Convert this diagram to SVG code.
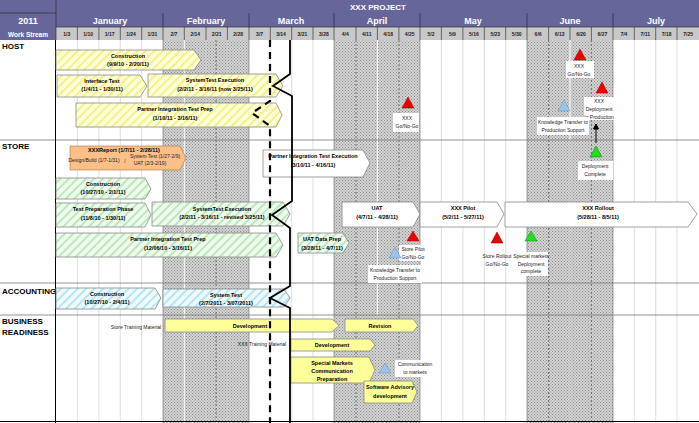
<svg xmlns="http://www.w3.org/2000/svg" width="699" height="423" viewBox="0 0 699 423">
<defs>
<pattern id="dots" width="3" height="3" patternUnits="userSpaceOnUse"><rect width="3" height="3" fill="#d4d4d4"/><rect width="1" height="1" fill="#8a8a8a"/><rect x="1.5" y="1.5" width="1" height="1" fill="#8a8a8a"/></pattern>
<pattern id="hy" width="6" height="6" patternUnits="userSpaceOnUse" patternTransform="rotate(45)"><rect width="6" height="6" fill="#ffffd8"/><rect width="2" height="6" fill="#f4f08a"/></pattern>
<pattern id="hg" width="6" height="6" patternUnits="userSpaceOnUse" patternTransform="rotate(45)"><rect width="6" height="6" fill="#f0fbef"/><rect width="2" height="6" fill="#bde8bb"/></pattern>
<pattern id="hc" width="6" height="6" patternUnits="userSpaceOnUse" patternTransform="rotate(45)"><rect width="6" height="6" fill="#effbff"/><rect width="2" height="6" fill="#b5e6f2"/></pattern>
</defs>
<style>
text{font-family:"Liberation Sans",Arial,sans-serif}
.b{font-size:5.5px;font-weight:bold;text-anchor:middle;fill:#000}
.s{font-size:5px;text-anchor:middle;fill:#222}
.w{font-size:5px;font-weight:bold;text-anchor:middle;fill:#222}
.m{font-size:9px;font-weight:bold;text-anchor:middle;fill:#fff}
.sec{font-size:8px;font-weight:bold;fill:#000}
.bar{stroke:#888;stroke-width:0.8}
.grid{stroke:#d0d0d0;stroke-width:0.7}
.lbl{fill:#fff}
</style>
<rect width="699" height="423" fill="#fff"/>
<g id="shade">
<rect x="163" y="40" width="86" height="383" fill="url(#dots)"/>
<rect x="334" y="40" width="86" height="383" fill="url(#dots)"/>
<rect x="527" y="40" width="86" height="383" fill="url(#dots)"/>
</g>
<g id="grid">
<path class="grid" d="M77.4 40V423M98.9 40V423M120.3 40V423M141.7 40V423M184.3 40V423M206 40V423M227.4 40V423M270.3 40V423M291.7 40V423M313 40V423M356 40V423M377.4 40V423M398.9 40V423M441.4 40V423M462.9 40V423M484.3 40V423M505.7 40V423M548.6 40V423M570 40V423M591.4 40V423M634.3 40V423M655.7 40V423M677 40V423"/>
<path stroke="#fff" stroke-width="1" d="M184.3 40V423M377.4 40V315M570 40V140"/>
<path stroke="#333" stroke-width="0.6" stroke-dasharray="2,2" d="M216 40V423M356 40V423M398.9 40V423M548.6 40V423M591.4 40V423"/>
<path stroke="#666" stroke-width="0.6" d="M163 40V423M249 40V423M334 40V423M420 40V423M527 40V423M613 40V423"/>
<path stroke="#777" stroke-width="0.8" d="M0 140H699M0 283H699M0 315H699"/>
<path stroke="#000" stroke-width="1" d="M55.5 40V423M0 421.5H699"/>
</g>
<g id="header">
<rect x="0" y="0" width="699" height="40" fill="#66669a"/>
<rect x="56" y="27" width="643" height="13" fill="#c8c8c8"/>
<path stroke="#222" stroke-width="0.6" d="M56 0V40M0 13H56M56 27H699M163 13V40M249 13V40M334 13V40M420 13V40M527 13V40M613 13V40M77.4 27V40M98.9 27V40M120.3 27V40M141.7 27V40M184.3 27V40M206 27V40M227.4 27V40M270.3 27V40M291.7 27V40M313 27V40M356 27V40M377.4 27V40M398.9 27V40M441.4 27V40M462.9 27V40M484.3 27V40M505.7 27V40M548.6 27V40M570 27V40M591.4 27V40M634.3 27V40M655.7 27V40M677 27V40"/>
<text x="378" y="10" font-size="8px" font-weight="bold" fill="#fff" text-anchor="middle">XXX PROJECT</text>
<text class="m" x="28" y="24">2011</text>
<text x="28" y="37" font-size="6.5px" font-weight="bold" fill="#fff" text-anchor="middle">Work Stream</text>
<text class="m" x="110" y="24">January</text>
<text class="m" x="206" y="24">February</text>
<text class="m" x="291" y="24">March</text>
<text class="m" x="377" y="24">April</text>
<text class="m" x="473" y="24">May</text>
<text class="m" x="570" y="24">June</text>
<text class="m" x="656" y="24">July</text>
<g class="w">
<text x="66.7" y="36">1/3</text><text x="88.1" y="36">1/10</text><text x="109.6" y="36">1/17</text><text x="131" y="36">1/24</text><text x="152.4" y="36">1/31</text>
<text x="173.9" y="36">2/7</text><text x="195.3" y="36">2/14</text><text x="216.7" y="36">2/21</text><text x="238.1" y="36">2/28</text>
<text x="259.6" y="36">3/7</text><text x="281" y="36">3/14</text><text x="302.4" y="36">3/21</text><text x="323.9" y="36">3/28</text>
<text x="345.3" y="36">4/4</text><text x="366.7" y="36">4/11</text><text x="388.1" y="36">4/18</text><text x="409.6" y="36">4/25</text>
<text x="431" y="36">5/2</text><text x="452.4" y="36">5/9</text><text x="473.9" y="36">5/16</text><text x="495.3" y="36">5/23</text><text x="516.7" y="36">5/30</text>
<text x="538.1" y="36">6/6</text><text x="559.6" y="36">6/13</text><text x="581" y="36">6/20</text><text x="602.4" y="36">6/27</text>
<text x="623.9" y="36">7/4</text><text x="645.3" y="36">7/11</text><text x="666.7" y="36">7/18</text><text x="688.1" y="36">7/25</text>
</g>
</g>
<g id="sections">
<text class="sec" x="2" y="49">HOST</text>
<text class="sec" x="2" y="149" font-size="7px">STORE</text>
<text class="sec" x="2" y="294">ACCOUNTING</text>
<text class="sec" x="2" y="324">BUSINESS</text>
<text class="sec" x="2" y="335">READINESS</text>
</g>
<g id="host">
<g id="h-construction"><path class="bar" fill="url(#hy)" d="M56 50H194L201 60L194 70H56Z"/><text class="b" x="128" y="58">Construction</text><text class="b" x="128" y="66">(9/9/10 - 2/20/11)</text></g>
<g id="h-interface"><path class="bar" fill="url(#hy)" d="M57 75H140L147 86L140 97H57Z"/><text class="b" x="102" y="83">Interface Test</text><text class="b" x="102" y="91">(1/4/11 - 1/30/11)</text></g>
<g id="h-systest"><path class="bar" fill="url(#hy)" d="M148 74H276L283 86L276 97H148Z"/><text class="b" x="215" y="82">SystemTest Execution</text><text class="b" x="215" y="91">(2/2/11 - 3/16/11 (now 3/25/11)</text></g>
<g id="h-partner"><path class="bar" fill="url(#hy)" d="M76 103H276L282 115L276 127H76Z"/><text class="b" x="175" y="111">Partner Integration Test Prep</text><text class="b" x="175" y="120">(1/10/11 - 3/16/11)</text></g>
<g id="h-m1"><path d="M408 97L414 108H402Z" fill="#e00" stroke="#900" stroke-width="0.5"/><rect x="393" y="113" width="26" height="19" class="lbl"/><text class="s" x="407" y="120">XXX</text><text class="s" x="407" y="128">Go/No-Go</text></g>
<g id="h-m2"><path d="M580 49L586 60H574Z" fill="#e00" stroke="#900" stroke-width="0.5"/><rect x="566" y="61" width="28" height="17" class="lbl"/><text class="s" x="579" y="68">XXX</text><text class="s" x="579" y="76">Go/No-Go</text></g>
<g id="h-m3"><path d="M602 82L608 93H596Z" fill="#e00" stroke="#900" stroke-width="0.5"/><rect x="584" y="97" width="35" height="23" class="lbl"/><text class="s" x="599" y="103">XXX</text><text class="s" x="599" y="111">Deployment</text><text class="s" x="599" y="119">to Production</text></g>
<g id="h-m4"><path d="M564 100L570 111H558Z" fill="#9cc3ea" stroke="#6b8fb8" stroke-width="0.5"/><rect x="537" y="117" width="52" height="18" class="lbl"/><text class="s" x="563" y="124">Knowledge Transfer to</text><text class="s" x="563" y="132">Production Support</text></g>
<g id="h-m5"><path d="M596 146L602 157H590Z" fill="#2d2" stroke="#181" stroke-width="0.5"/><rect x="578" y="161" width="35" height="19" class="lbl"/><text class="s" x="595" y="168">Deployment</text><text class="s" x="595" y="176">Complete</text></g>
</g>
<g id="store">
<g id="s-report"><path stroke="#b07030" stroke-width="0.6" fill="#fbc08a" d="M70 146H180L186 158L180 170H70Z"/><text class="b" x="124" y="152">XXXReport (1/7/11 - 2/28/11)</text><text class="s" x="94" y="162" font-size="4.5px">Design/Build (1/7-1/31)</text><text class="s" x="125" y="163" font-size="8px">/</text><text class="s" x="155" y="158" font-size="4.5px">System Test (1/27-2/9)</text><text class="s" x="150" y="164.5" font-size="4.5px">UAT (2/3-2/19)</text></g>
<g id="s-pite"><path class="bar" fill="#fff" d="M263 150H363L370 163L363 177H263Z"/><text class="b" x="313" y="158">Partner Integration Test Execution</text><text class="b" x="313" y="167">(3/10/11 - 4/16/11)</text></g>
<g id="s-construction"><path class="bar" fill="url(#hg)" d="M56 178H145L151 189L145 199H56Z"/><text class="b" x="103" y="186">Construction</text><text class="b" x="103" y="194">(10/27/10 - 2/1/11)</text></g>
<g id="s-testprep"><path class="bar" fill="url(#hg)" d="M56 203H145L151 215L145 227H56Z"/><text class="b" x="103" y="211">Test Preparation Phase</text><text class="b" x="103" y="220">(11/8/10 - 1/30/11)</text></g>
<g id="s-systest"><path class="bar" fill="url(#hg)" d="M152 202H283L290 214L283 226H152Z"/><text class="b" x="222" y="211">SystemTest Execution</text><text class="b" x="222" y="219">(2/2/11 - 3/16/11 - revised 3/25/11)</text></g>
<g id="s-partner"><path class="bar" fill="url(#hg)" d="M56 233H276L283 245L276 257H56Z"/><text class="b" x="168" y="241">Partner Integration Test Prep</text><text class="b" x="168" y="250">(12/06/10 - 3/16/11)</text></g>
<g id="s-uatdp"><path class="bar" fill="url(#hg)" d="M298 233H343L349 243L343 253H298Z"/><text class="b" x="322" y="241">UAT Data Prep</text><text class="b" x="322" y="250">(3/28/11 - 4/7/11)</text></g>
<g id="s-uat"><path class="bar" fill="#fff" d="M342 202H413L420 214L413 227H342Z"/><text class="b" x="377" y="210">UAT</text><text class="b" x="377" y="219">(4/7/11 - 4/28/11)</text></g>
<g id="s-pilot"><path class="bar" fill="#fff" d="M420 202H497L504 214L497 227H420Z"/><text class="b" x="463" y="210">XXX Pilot</text><text class="b" x="463" y="219">(5/2/11 - 5/27/11)</text></g>
<g id="s-rollout"><path class="bar" fill="#fff" d="M505 202H688L697 214L688 227H505Z"/><text class="b" x="598" y="210">XXX Rollout</text><text class="b" x="598" y="219">(5/28/11 - 8/5/11)</text></g>
<g id="s-m1"><path d="M413 231L419 241H407Z" fill="#e00" stroke="#900" stroke-width="0.5"/><rect x="399" y="245" width="28" height="16" class="lbl"/><text class="s" x="413" y="251">Store Pilot</text><text class="s" x="413" y="259">Go/No-Go</text></g>
<g id="s-m2"><path d="M395 247L401 258H389Z" fill="#9cc3ea" stroke="#6b8fb8" stroke-width="0.5"/><rect x="368" y="265" width="54" height="18" class="lbl"/><text class="s" x="395" y="272">Knowledge Transfer to</text><text class="s" x="395" y="280">Production Support</text></g>
<g id="s-m3"><path d="M497 232L503 243H491Z" fill="#e00" stroke="#900" stroke-width="0.5"/><text class="s" x="497" y="258">Store Rollout</text><text class="s" x="497" y="266">Go/No-Go</text></g>
<g id="s-m4"><path d="M531 231L537 241H525Z" fill="#2d2" stroke="#181" stroke-width="0.5"/><rect x="515" y="252" width="33" height="24" class="lbl"/><text class="s" x="531" y="258">Special markets</text><text class="s" x="531" y="266">Deployment</text><text class="s" x="531" y="273">complete</text></g>
</g>
<g id="accounting">
<g id="a-construction"><path class="bar" fill="url(#hc)" d="M56 288H155L161 298L155 309H56Z"/><text class="b" x="107" y="296">Construction</text><text class="b" x="107" y="304">(10/27/10 - 2/4/11)</text></g>
<g id="a-systest"><path class="bar" fill="url(#hc)" d="M163 289H284L290 298L284 307H163Z"/><text class="b" x="226" y="297">System Test</text><text class="b" x="226" y="305">(2/7/2011 - 3/07/2011)</text></g>
</g>
<g id="business">
<text class="s" x="136" y="329">Store Training Material</text>
<g id="b-dev1"><path class="bar" fill="#ffff99" d="M165 319H332L339 325.5L332 332H165Z"/><text class="b" x="250" y="328">Development</text></g>
<g id="b-rev"><path class="bar" fill="#ffff99" d="M345 319H413L418 325.5L413 332H345Z"/><text class="b" x="380" y="328">Revision</text></g>
<text class="s" x="262" y="346">XXX Training Material</text>
<g id="b-dev2"><path class="bar" fill="#ffff99" d="M291 339H370L375 345L370 351H291Z"/><text class="b" x="332" y="347">Development</text></g>
<g id="b-smcp"><path class="bar" fill="#ffff99" d="M291 357H369L375 370L369 383H291Z"/><text class="b" x="332" y="365">Special Markets</text><text class="b" x="332" y="373">Communication</text><text class="b" x="332" y="381">Preparation</text></g>
<g id="b-comm"><path d="M385 363L391 373H379Z" fill="#9cc3ea" stroke="#6b8fb8" stroke-width="0.5"/><rect x="395" y="360" width="40" height="17" class="lbl"/><text class="s" x="415" y="366">Communication</text><text class="s" x="415" y="374">to markets</text></g>
<g id="b-sad"><path class="bar" fill="#ffff99" d="M364 381H412L417 392L412 403H364Z"/><text class="b" x="390" y="389">Software Advisory</text><text class="b" x="390" y="398">development</text></g>
</g>
<g id="connectors" fill="none" stroke="#000">
<path stroke-width="2.2" stroke-dasharray="7,5" d="M270 40V101L252 113L270 126V423"/>
<path stroke-width="1.8" d="M290 40V74L273 86L292 96V201L272 215L290 228V286L270 298L290 308V423"/>
<path stroke-width="1" d="M596 143V127"/>
<path d="M593.5 129L596 124L598.5 129Z" fill="#000"/>
</g>
</svg>
